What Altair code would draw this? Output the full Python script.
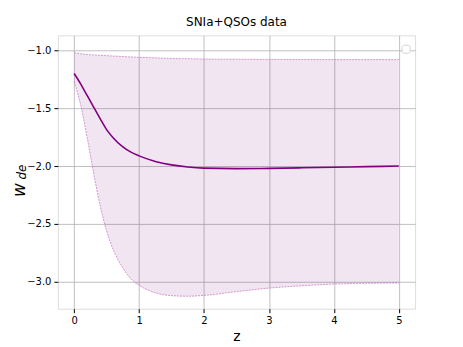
import altair as alt
import pandas as pd

z = [0, 0.1, 0.2, 0.3, 0.4, 0.5, 0.6, 0.75, 0.875, 1.0, 1.25, 1.5, 1.75, 2.0, 2.5, 3.0, 3.5, 4.0, 4.5, 5.0]
w_mid = [-1.20, -1.29, -1.39, -1.49, -1.59, -1.685, -1.755, -1.835, -1.88, -1.912, -1.96, -1.99, -2.008, -2.018,
         -2.022, -2.02, -2.015, -2.01, -2.005, -2.0]
w_up = [-1.02, -1.03, -1.035, -1.04, -1.043, -1.046, -1.049, -1.053, -1.057, -1.06, -1.065, -1.07, -1.072, -1.075,
        -1.077, -1.078, -1.079, -1.08, -1.08, -1.08]
w_lo = [-1.27, -1.47, -1.75, -2.06, -2.34, -2.56, -2.72, -2.88, -2.975, -3.03, -3.095, -3.12, -3.125, -3.118,
        -3.085, -3.055, -3.035, -3.02, -3.013, -3.01]

x_ticks = [0, 1, 2, 3, 4, 5]
y_ticks = [-1.0, -1.5, -2.0, -2.5, -3.0]

df = pd.DataFrame({"z": z, "mid": w_mid, "up": w_up, "lo": w_lo})

FONT = "DejaVu Sans"
xs = alt.Scale(domain=[-0.25, 5.25], nice=False, zero=False)
ys = alt.Scale(domain=[-3.233, -0.87], nice=False, zero=False)

xax = alt.Axis(values=x_ticks, format="d", title="z", titleFontSize=14, titleFont=FONT, titleFontWeight="normal",
               titleColor="black", labelFont=FONT, labelFontSize=10, labelColor="black",
               grid=True, gridColor="#b0b0b0", gridWidth=0.8, tickColor="black", tickSize=4,
               domain=False, labelPadding=3, titlePadding=4)
yax = alt.Axis(values=y_ticks, title=None, labelFont=FONT, labelFontSize=10, labelColor="black",
               format=".1f", grid=True, gridColor="#b0b0b0", gridWidth=0.8, tickColor="black",
               tickSize=4, domain=False, labelPadding=3)

base = alt.Chart(df)

band = base.mark_area(color="purple", opacity=0.1, interpolate="monotone").encode(
    x=alt.X("z:Q", scale=xs, axis=xax),
    y=alt.Y("lo:Q", scale=ys, axis=yax),
    y2="up:Q",
)
up_line = base.mark_line(color="#c070c0", strokeWidth=0.7, strokeDash=[2, 1], interpolate="monotone").encode(
    x=alt.X("z:Q", scale=xs), y=alt.Y("up:Q", scale=ys))
lo_line = base.mark_line(color="#c070c0", strokeWidth=0.7, strokeDash=[2, 1], interpolate="monotone").encode(
    x=alt.X("z:Q", scale=xs), y=alt.Y("lo:Q", scale=ys))
mid_line = base.mark_line(color="purple", strokeWidth=1.6, interpolate="monotone").encode(
    x=alt.X("z:Q", scale=xs), y=alt.Y("mid:Q", scale=ys))

legend_box = alt.Chart(pd.DataFrame({"a": [0]})).mark_rect(
    fill="white", stroke="#cccccc", strokeWidth=0.8, cornerRadius=2).encode(
    x=alt.value(345), x2=alt.value(353), y=alt.value(10), y2=alt.value(18))

ylab_w = alt.Chart(pd.DataFrame({"t": ["w"]})).mark_text(
    font=FONT, fontSize=17, fontStyle="italic", angle=270, color="black", align="center", baseline="middle").encode(
    text="t:N", x=alt.value(-38), y=alt.value(155))
ylab_de = alt.Chart(pd.DataFrame({"t": ["de"]})).mark_text(
    font=FONT, fontSize=12, fontStyle="italic", angle=270, color="black", align="center", baseline="middle").encode(
    text="t:N", x=alt.value(-36), y=alt.value(137))

chart = alt.layer(band, up_line, lo_line, mid_line, legend_box, ylab_w, ylab_de).properties(
    width=358, height=274,
    title=alt.TitleParams("SNIa+QSOs data", font=FONT, fontSize=12, fontWeight="normal", color="black", offset=6),
    autosize=alt.AutoSizeParams(type="none"),
    padding={"left": 50, "top": 27, "right": 40, "bottom": 40},
).configure_view(stroke="black", strokeWidth=1).configure(background="white")

chart.save("out.html", embed_options={"renderer": "svg", "actions": False})
